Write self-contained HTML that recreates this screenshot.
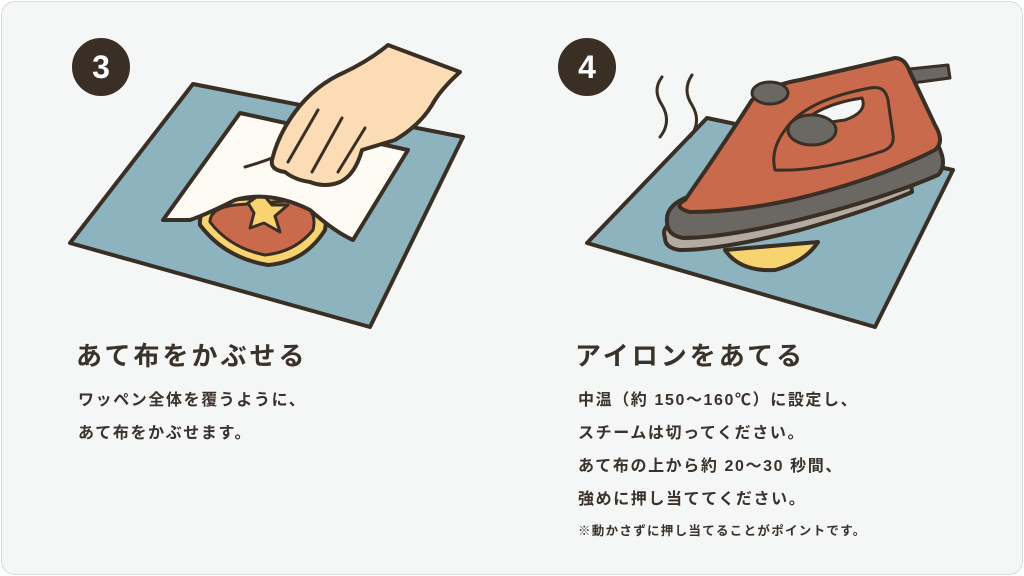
<!DOCTYPE html>
<html><head><meta charset="utf-8"><style>
html,body{margin:0;padding:0;width:1024px;height:576px;overflow:hidden;background:#fff}
.card{position:absolute;left:1px;top:1px;width:1020px;height:572px;border:1px solid #d8dcdc;border-radius:14px;background:#f5f7f7}
.t{position:absolute;color:#3a322b;font-family:"Liberation Sans","Noto Sans CJK JP",sans-serif;white-space:nowrap}
.h{font-size:26px;font-weight:bold;letter-spacing:3px}
.b{font-size:16px;font-weight:bold;line-height:33px;letter-spacing:1.6px}
</style></head><body>
<div class="card"></div>
<svg style="position:absolute;left:0;top:0" width="1024" height="576" viewBox="0 0 1024 576">
<g stroke="#3a2f25" stroke-width="4" stroke-linejoin="round" stroke-linecap="round">
<!-- step 3 -->
<circle cx="101" cy="67" r="27" fill="#3a2f25"/>
<polygon points="193,84 463,137 370,327 70,243" fill="#8db3bf"/>
<path d="M200,225 Q198,205 225,200 L300,195 Q330,205 325,230 Q305,262 268,265 Q225,258 200,225Z" fill="#f8d470"/>
<path d="M210,222 Q210,208 235,205 L298,200 Q318,210 313,230 Q295,252 265,255 Q230,248 210,222Z" fill="#c96a4c" stroke-width="3"/>
<polygon points="248,203 262,193 272,205 288,205 275,216 280,232 264,223 250,228 254,213" fill="#f8d470" stroke-width="3"/>
<path d="M240,113 L408,150 L353,240 Q335,232 310,210 Q270,190 235,200 Q205,215 190,220 L163,220 Z" fill="#fdfbf4"/>
<path d="M272,160 Q278,135 295,112 Q315,85 345,72 Q370,60 388,45 L460,72 Q440,90 432,105 Q420,125 395,140 L362,150 Q355,175 340,182 Q325,188 310,182 Q295,180 285,172 Q270,170 272,160Z" fill="#fcdcb4"/>
<path d="M245,167 Q262,162 272,158" fill="none" stroke-width="3"/>
<path d="M318,110 L288,162 M342,118 L312,172 M365,128 L338,172" fill="none" stroke-width="3"/>
<!-- step 4 -->
<circle cx="587" cy="67" r="27" fill="#3a2f25"/>
<polygon points="707,118 953,170 875,327 587,243" fill="#8db3bf"/>
<path d="M662,77 Q652,90 662,105 Q672,122 660,137 M692,75 Q682,90 692,105 Q702,122 690,137" fill="none" stroke-width="3"/>
<path d="M725,250 Q740,272 775,270 Q805,262 818,242 Z" fill="#f8d470"/>
<path d="M900,70 L948,65 L950,78 L905,84 Z" fill="#6b6762" stroke-width="3"/>
<path d="M665,238 Q660,225 680,220 L910,175 L912,192 Q870,210 800,230 Q720,250 680,250 Q665,248 665,238Z" fill="#b3aba2"/>
<path d="M667,222 Q665,205 690,196 L938,145 Q948,165 938,175 Q880,200 790,222 Q720,238 683,238 Q667,235 667,222Z" fill="#6b6762"/>
<path d="M685,200 Q720,150 752,100 Q770,85 800,80 L895,58 Q905,58 910,72 L935,125 Q945,142 935,150 Q880,178 800,198 Q740,212 690,212 Q672,207 685,200Z" fill="#c96a4c"/>
<path d="M775,170 Q770,150 785,130 Q805,100 870,88 Q885,85 888,100 L893,135 Q895,148 880,152 Q820,172 775,170Z" fill="#c96a4c" stroke-width="3"/>
<path d="M795,130 Q815,105 862,98 Q868,112 845,120 Q815,124 795,130Z" fill="#f5f7f7" stroke-width="3"/>
<ellipse cx="812" cy="130" rx="24" ry="15" fill="#6b6762" stroke-width="3"/>
<ellipse cx="770" cy="93" rx="18" ry="11" fill="#6b6762" stroke-width="3"/>
</g>
<text x="101" y="78" font-family="Liberation Sans,sans-serif" font-weight="bold" font-size="32" fill="#fff" text-anchor="middle">3</text>
<text x="587" y="78" font-family="Liberation Sans,sans-serif" font-weight="bold" font-size="32" fill="#fff" text-anchor="middle">4</text>
</svg>
<div class="t h" style="left:76px;top:336px">あて布をかぶせる</div>
<div class="t b" style="left:78px;top:384px">ワッペン全体を覆うように、<br>あて布をかぶせます。</div>
<div class="t h" style="left:575px;top:336px">アイロンをあてる</div>
<div class="t b" style="left:578px;top:384px">中温（約 150〜160℃）に設定し、<br>スチームは切ってください。<br>あて布の上から約 20〜30 秒間、<br>強めに押し当ててください。</div>
<div class="t" style="left:578px;top:520px;font-size:12.5px;font-weight:bold;letter-spacing:1.3px">※動かさずに押し当てることがポイントです。</div>
</body></html>
